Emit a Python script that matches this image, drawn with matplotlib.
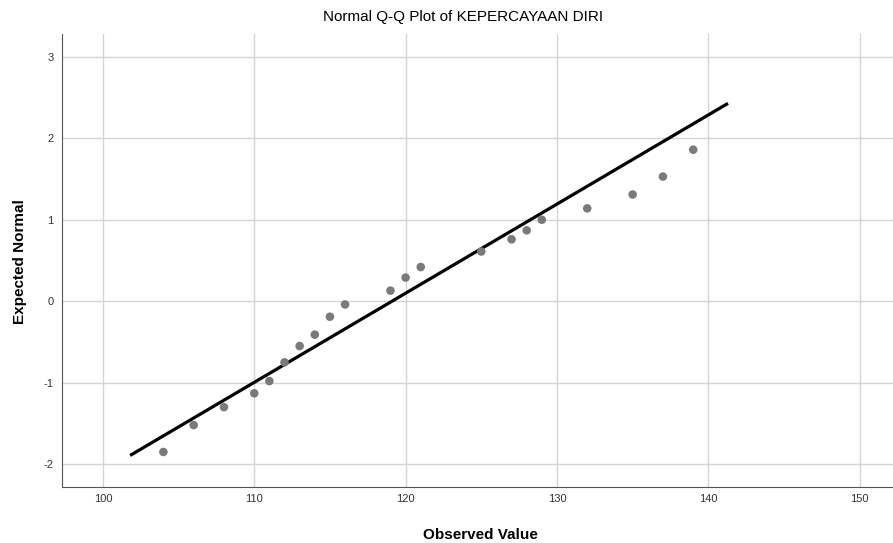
import matplotlib
matplotlib.use("Agg")
import matplotlib.pyplot as plt
import numpy as np

plt.rcParams['font.family'] = ['Liberation Sans', 'DejaVu Sans']
plt.rcParams['axes.unicode_minus'] = False

title = "Normal Q-Q Plot of KEPERCAYAAN DIRI"
observed = [104, 106, 108, 110, 111, 112, 113, 114, 115, 116, 119, 120, 121,
            125, 127, 128, 129, 132, 135, 137, 139]
expected = [-1.85, -1.52, -1.30, -1.13, -0.98, -0.75, -0.55, -0.41, -0.19, -0.04,
            0.13, 0.29, 0.42, 0.61, 0.76, 0.87, 1.00, 1.14, 1.31, 1.53, 1.86]
line_mean = 119.1
line_sd = 9.14
line_x = [101.8, 141.3]
x_ticks = [100, 110, 120, 130, 140, 150]
y_ticks = [-2, -1, 0, 1, 2, 3]

fig = plt.figure(figsize=(8.93, 5.43), dpi=100)
ax = fig.add_axes([62/893, 1-487/543, 1-62/893, (487-34)/543])

ax.set_xlim(97.3, 152.2)
ax.set_ylim(-2.28, 3.28)
ax.set_xticks(x_ticks)
ax.set_yticks(y_ticks)
ax.grid(True, color='#d4d4d4', linewidth=1.0)
ax.set_axisbelow(True)

lx = np.array(line_x)
ly = (lx - line_mean) / line_sd
ax.plot(lx, ly, color='black', linewidth=2.3, solid_capstyle='butt', zorder=3)
ax.scatter(observed, expected, s=38, color='#7a7a7a', edgecolors='none', zorder=4)

for s in ['top', 'right']:
    ax.spines[s].set_visible(False)
for s in ['left', 'bottom']:
    ax.spines[s].set_color('#555555')
    ax.spines[s].set_linewidth(0.8)
ax.tick_params(length=0, labelsize=8, colors='#333333')
ax.tick_params(axis='x', pad=5)
ax.tick_params(axis='y', pad=6)

ax.set_xlabel("Observed Value", fontsize=11, fontweight='bold', va='center')
ax.xaxis.set_label_coords(0.503, (487-535)/453)
ax.set_ylabel("Expected Normal", fontsize=11, fontweight='bold', va='center')
ax.yaxis.set_label_coords((20-62)/831, 0.497)
fig.text(463/893, 1-17/543, title, ha='center', va='center', fontsize=11)

fig.savefig("out.png", dpi=100)
